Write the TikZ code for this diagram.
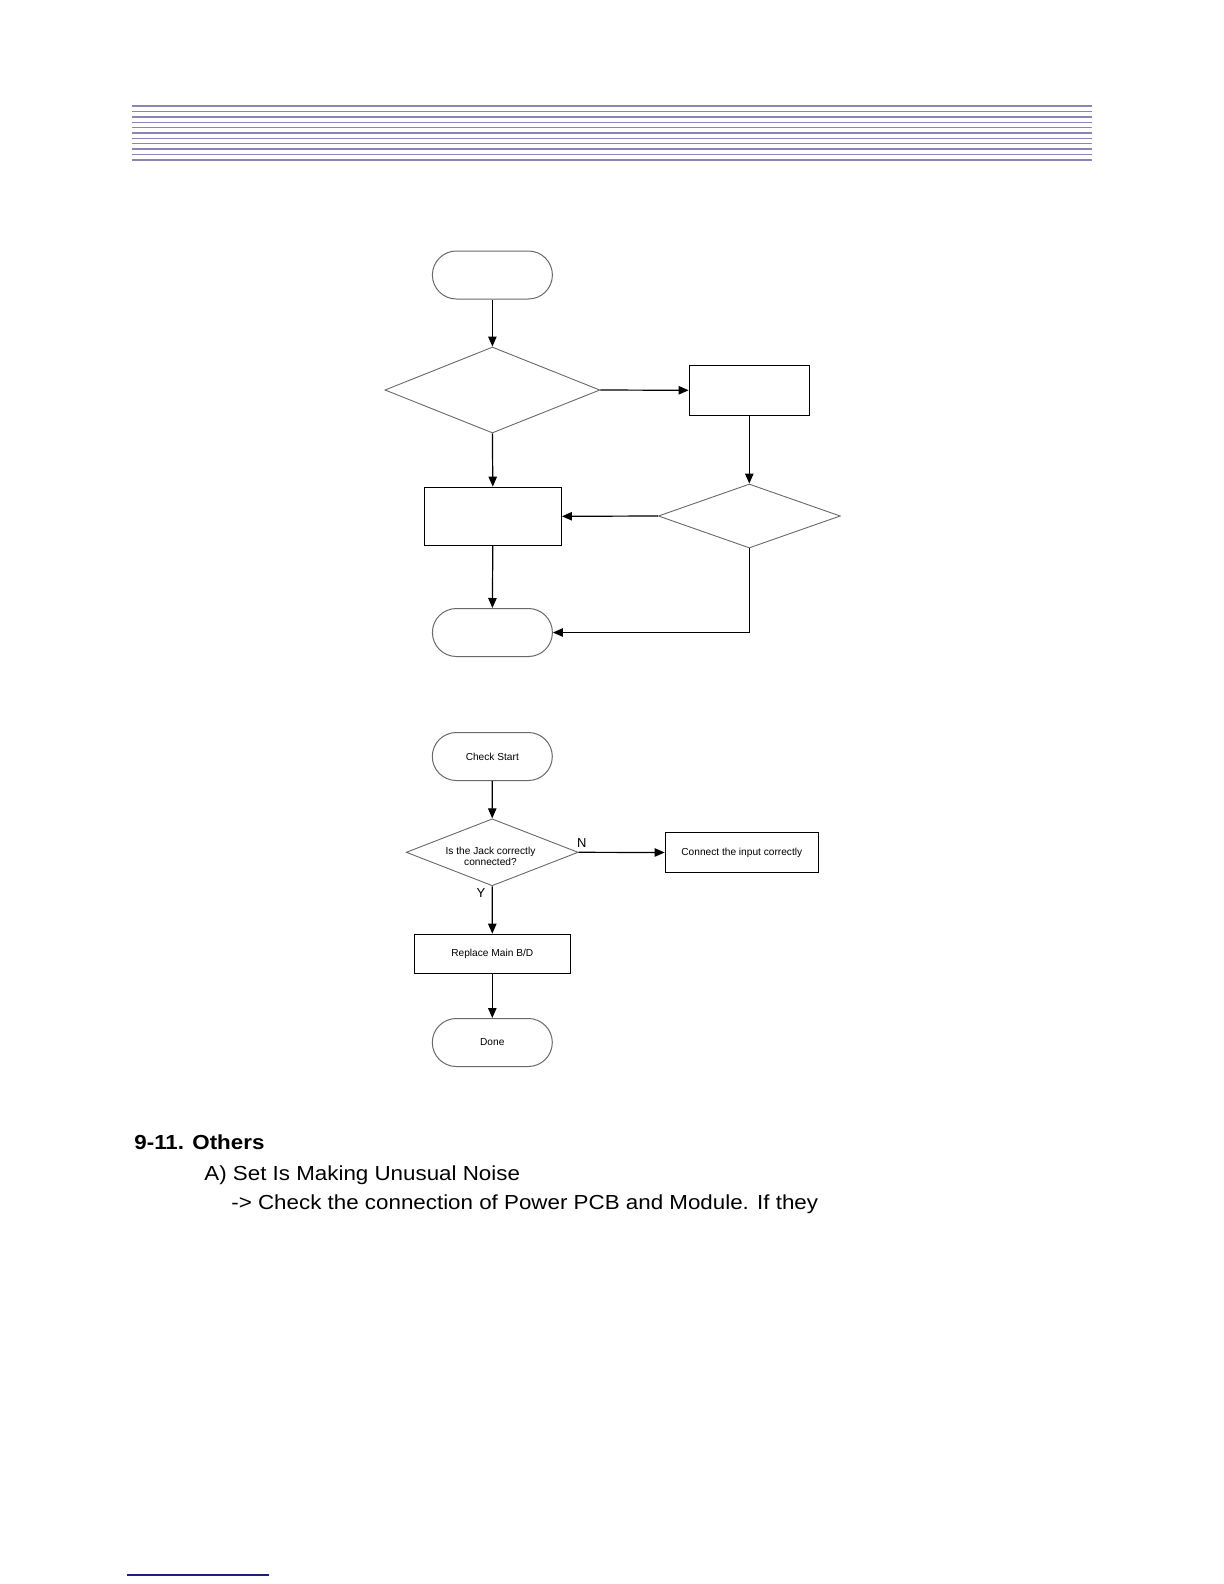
\documentclass[tikz,border=0pt]{standalone}
\usepackage{fontspec}
\setmainfont{Liberation Sans}
\newfontfamily\bodyfont[FakeStretch=1.1]{Liberation Sans}
\usetikzlibrary{arrows.meta,shapes.geometric}
\definecolor{hdr}{RGB}{138,133,182}
\definecolor{navyline}{RGB}{30,30,128}
\definecolor{shapegray}{RGB}{105,105,105}
\begin{document}
\begin{tikzpicture}[x=0.5bp,y=-0.5bp,
  term/.style={draw=shapegray, line width=0.5bp, rounded corners=12bp, minimum width=60bp, minimum height=24bp, inner sep=0pt, font=\fontsize{5.1}{6}\selectfont},
  proc/.style={draw=black, line width=0.65bp, inner sep=0pt, font=\fontsize{5.1}{6}\selectfont},
  dec/.style={draw=shapegray, line width=0.45bp, shape=diamond, aspect=2.5, inner sep=0pt, align=center, font=\fontsize{5.1}{6}\selectfont},
  dectext/.style={inner sep=0pt, align=center, font=\fontsize{5.1}{6}\selectfont},
  conn/.style={draw=black, line width=0.6bp, -{Triangle[length=5bp,width=4.2bp]}},
  hthin/.style={draw=hdr, line width=0.6bp},
  hthick/.style={draw=hdr, line width=1.1bp},
  body/.style={anchor=base west, inner sep=0pt, font=\bodyfont\fontsize{10.2}{12}\selectfont},
  yn/.style={inner sep=0pt, font=\fontsize{6.5}{7}\selectfont}
]
\useasboundingbox[fill=white] (0,0) rectangle (1224,1584);

% header rule block
\draw[hthick] (132,106.3) -- (1092,106.3);
\foreach \i in {1,...,9} {
  \draw[hthin] (132,{106.3+\i*5.34}) -- (1092,{106.3+\i*5.34});
}
\draw[hthick] (132,159.7) -- (1092,159.7);

% ---- upper flowchart (empty shapes) ----
\node[term] (s1) at (492.4,275) {};
\node[dec, minimum width=107.5bp, minimum height=43bp] (d1) at (492.4,390) {};
\node[proc, minimum width=60bp, minimum height=25bp] (b1) at (749.3,390.3) {};
\node[dec, minimum width=91bp, minimum height=32bp] (d2) at (749.3,516) {};
\node[proc, minimum width=68.5bp, minimum height=29bp] (b2) at (492.8,516.3) {};
\node[term] (e1) at (492.4,632.5) {};

\draw[conn] (s1.south) -- (d1.north);
\draw[conn] (d1.east) -- (b1.west);
\draw[conn] (b1.south) -- (d2.north);
\draw[conn] (d1.south) -- (b2.north);
\draw[conn] (d2.west) -- (b2.east);
\draw[conn] (b2.south) -- (e1.north);
\draw[conn] (d2.south) |- (e1.east);

% ---- lower flowchart ----
\node[term] (cs) at (492.3,756.5) {Check Start};
\node[dec, minimum width=86bp, minimum height=33.5bp] (d3) at (492.2,852.3) {};
\node[dectext] (d3text) at (490.5,856.5) {Is the Jack correctly\\[-0.3bp]connected?};
\node[proc, minimum width=76.5bp, minimum height=19.8bp] (ci) at (741.8,852.5) {Connect the input correctly};
\node[proc, minimum width=78bp, minimum height=19.5bp] (rm) at (492.3,953.8) {Replace Main B/D};
\node[term] (dn) at (492.3,1042.5) {Done};

\draw[conn] (cs.south) -- (d3.north);
\draw[conn] (d3.east) -- (ci.west);
\draw[conn] (d3.south) -- (rm.north);
\draw[conn] (rm.south) -- (dn.north);

\node[yn] (nlab) at (581.7,842.7) {N};
\node[yn] (ylab) at (481,893.3) {Y};

% ---- body text ----
\node[body, font=\bodyfont\bfseries\fontsize{10.2}{12}\selectfont] (t1) at (134,1149) {9-11. Others};
\node[body] (t2) at (204,1180) {A) Set Is Making Unusual Noise};
\node[body] (t3) at (231,1209) {-> Check the connection of Power PCB and Module. If they};

% footer rule
\draw[draw=navyline, line width=0.8bp] (127,1575) -- (269,1575);
\end{tikzpicture}
\end{document}
